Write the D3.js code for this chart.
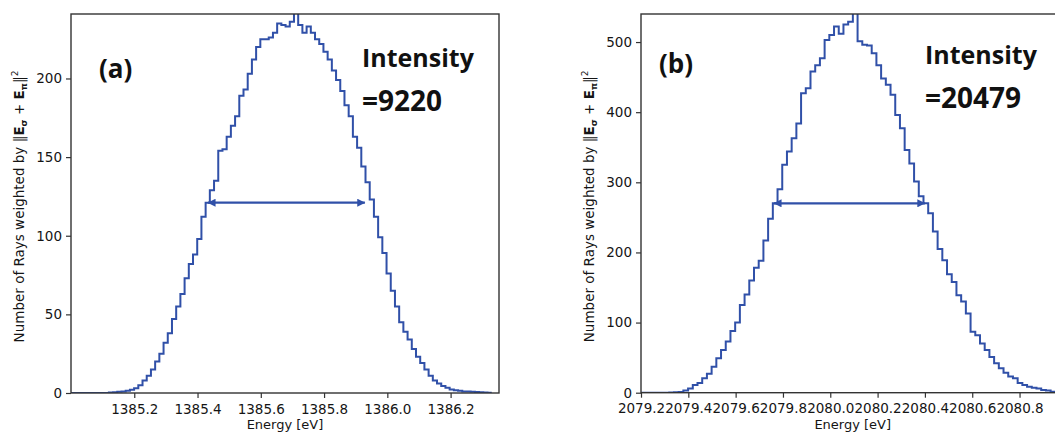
<!DOCTYPE html>
<html>
<head>
<meta charset="utf-8">
<script src="https://cdn.jsdelivr.net/npm/d3@7"></script>
<style>
  body { margin: 0; background: #fff; }
  svg { display: block; }
  .axis text { font-family: "DejaVu Sans", sans-serif; font-size: 13.5px; fill: #151515; }
  .axis path, .axis line { stroke: #333; stroke-width: 1.2; }
  .xlab { font-family: "DejaVu Sans", sans-serif; font-size: 13px; fill: #151515; }
  .ylab { font-family: "DejaVu Sans", sans-serif; font-size: 13.5px; fill: #151515; }
  .note { font-family: "Open Sans", sans-serif; font-weight: bold; fill: #111; }
</style>
</head>
<body>
<script>
// histogram (a): bins of 0.0133 eV starting at 1385.0 eV
const leftStart = 1385.0;
const leftBin = 0.0133;
const leftCounts = [0, 0, 0, 0, 0, 0, 0, 0, 0, 0.3,
  0.5, 0.8, 1, 1.5, 2, 3, 5, 8, 11, 15,
  20, 25, 32, 38, 47, 55, 63, 73, 82, 88,
  98, 112, 121, 129, 135, 154, 155, 163, 170, 176,
  189, 193, 203, 212, 220, 225, 225, 226, 229, 235,
  234, 233, 236, 245, 234, 229, 233, 229, 225, 222,
  217, 212, 205, 199, 192, 183, 176, 163, 156, 144,
  134, 123, 112, 99, 89, 76, 65, 55, 45, 39,
  34, 28, 23, 19, 15, 11, 8, 6, 4.4, 3.4,
  2.3, 1.7, 1.5, 1, 1, 0.8, 0.6, 0.4, 0.3, 0.2];
const leftTicksX = [1385.2, 1385.4, 1385.6, 1385.8, 1386.0, 1386.2];
const leftTicksY = [0, 50, 100, 150, 200];
const leftFwhm = [1385.433, 1385.929, 121];

// histogram (b): bins of 0.0199 eV starting at 2079.2 eV
const rightStart = 2079.2;
const rightBin = 0.0199;
const rightCounts = [0, 0, 0, 0, 0, 0, 0.3, 0.5, 1, 3,
  6, 11, 14, 20.5, 27, 37, 49, 61, 73, 88,
  100, 125, 140, 160, 178, 188, 217, 248, 270, 290,
  325, 344, 363, 384, 427, 434, 458, 467, 477, 503,
  510, 522, 512, 525, 529, 555, 501, 496, 495, 484,
  467, 448, 439, 425, 396, 377, 346, 327, 301, 280,
  270, 256, 230, 205, 189, 169, 158, 139, 130, 113,
  87, 82, 70, 61, 51, 42, 35, 28.5, 23, 20.5,
  14, 11, 8.5, 7, 6, 4, 3, 1.5, 1, 0.5];
const rightTicksX = [2079.2, 2079.4, 2079.6, 2079.8, 2080.0, 2080.2, 2080.4, 2080.6, 2080.8];
const rightTicksY = [0, 100, 200, 300, 400, 500];
const rightFwhm = [2079.762, 2080.40, 270];

const W = 1055, H = 435;
const blue = '#3050a8';

const svg = d3.select('body').append('svg')
  .attr('width', W).attr('height', H);

const defs = svg.append('defs');
defs.append('marker')
  .attr('id', 'arr')
  .attr('viewBox', '0 0 10 10')
  .attr('refX', 9.5).attr('refY', 5)
  .attr('markerWidth', 10).attr('markerHeight', 8)
  .attr('markerUnits', 'userSpaceOnUse')
  .attr('orient', 'auto-start-reverse')
  .append('path').attr('d', 'M0,0 L10,5 L0,10 z').attr('fill', blue);

function panel(cfg) {
  const x = d3.scaleLinear().domain(cfg.xdom).range([cfg.left, cfg.right]);
  const y = d3.scaleLinear().domain(cfg.ydom).range([cfg.bottom, cfg.top]);

  const clipId = 'clip-' + cfg.name;
  defs.append('clipPath').attr('id', clipId)
    .append('rect')
    .attr('x', cfg.left).attr('y', cfg.top)
    .attr('width', cfg.right - cfg.left).attr('height', cfg.bottom - cfg.top);

  // histogram outline (step)
  const pts = cfg.counts.map((c, i) => [cfg.start + i * cfg.bin, c]);
  pts.push([cfg.start + cfg.counts.length * cfg.bin, cfg.counts[cfg.counts.length - 1]]);
  const line = d3.line().x(d => x(d[0])).y(d => y(d[1])).curve(d3.curveStepAfter);
  svg.append('path')
    .datum(pts)
    .attr('clip-path', `url(#${clipId})`)
    .attr('d', line)
    .attr('fill', 'none')
    .attr('stroke', blue)
    .attr('stroke-width', 2)
    .attr('stroke-linejoin', 'miter');

  // FWHM arrow
  svg.append('line')
    .attr('x1', x(cfg.fwhm[0])).attr('x2', x(cfg.fwhm[1]))
    .attr('y1', y(cfg.fwhm[2])).attr('y2', y(cfg.fwhm[2]))
    .attr('stroke', blue).attr('stroke-width', 2.2)
    .attr('marker-start', 'url(#arr)')
    .attr('marker-end', 'url(#arr)');

  // axes
  svg.append('g').attr('class', 'axis')
    .attr('transform', `translate(0,${cfg.bottom})`)
    .call(d3.axisBottom(x).tickValues(cfg.ticksX).tickFormat(d3.format('.1f')).tickSizeOuter(0).tickSize(5).tickPadding(6))
    .select('.domain').remove();
  svg.append('g').attr('class', 'axis')
    .attr('transform', `translate(${cfg.left},0)`)
    .call(d3.axisLeft(y).tickValues(cfg.ticksY).tickFormat(d3.format('d')).tickSizeOuter(0).tickSize(5).tickPadding(4))
    .select('.domain').remove();

  svg.append('rect')
    .attr('x', cfg.left).attr('y', cfg.top)
    .attr('width', cfg.right - cfg.left).attr('height', cfg.bottom - cfg.top)
    .attr('fill', 'none').attr('stroke', '#333').attr('stroke-width', 1.4);

  // axis titles
  svg.append('text').attr('class', 'xlab')
    .attr('x', (cfg.left + cfg.right) / 2).attr('y', 429)
    .attr('text-anchor', 'middle')
    .text('Energy [eV]');

  const yl = svg.append('text').attr('class', 'ylab')
    .attr('transform', `translate(${cfg.ylabX},${(cfg.top + cfg.bottom) / 2 + 3}) rotate(-90)`)
    .attr('text-anchor', 'middle');
  yl.append('tspan').text('Number of Rays weighted by \u2016');
  yl.append('tspan').attr('font-weight', 'bold').text('E');
  yl.append('tspan').attr('font-weight', 'bold').attr('font-size', 9).attr('dy', 3).text('\u03c3');
  yl.append('tspan').attr('dy', -3).text(' + ');
  yl.append('tspan').attr('font-weight', 'bold').text('E');
  yl.append('tspan').attr('font-weight', 'bold').attr('font-size', 9).attr('dy', 3).text('\u03c0');
  yl.append('tspan').attr('dy', -3).text('\u2016');
  yl.append('tspan').attr('font-size', 9).attr('dy', -6).text('2');

  // annotations
  svg.append('text').attr('class', 'note')
    .attr('x', cfg.tagX).attr('y', cfg.tagY).attr('font-size', 26)
    .text(cfg.tag);
  svg.append('text').attr('class', 'note')
    .attr('x', cfg.noteX).attr('y', cfg.noteY).attr('font-size', 25)
    .text('Intensity');
  svg.append('text').attr('class', 'note')
    .attr('x', cfg.noteX).attr('y', cfg.noteY + 44).attr('font-size', 28)
    .text(cfg.value);
}

panel({
  name: 'a', left: 71, right: 499, top: 14, bottom: 393,
  xdom: [1385.0, 1386.353], ydom: [0, 241],
  start: leftStart, bin: leftBin, counts: leftCounts,
  ticksX: leftTicksX, ticksY: leftTicksY, fwhm: leftFwhm,
  ylabX: 24, tag: '(a)', tagX: 99, tagY: 78,
  noteX: 362, noteY: 67, value: '=9220'
});

panel({
  name: 'b', left: 641, right: 1064.5, top: 14, bottom: 392.7,
  xdom: [2079.2, 2080.99], ydom: [0, 540],
  start: rightStart, bin: rightBin, counts: rightCounts,
  ticksX: rightTicksX, ticksY: rightTicksY, fwhm: rightFwhm,
  ylabX: 594, tag: '(b)', tagX: 659, tagY: 73,
  noteX: 925, noteY: 64, value: '=20479'
});
</script>
</body>
</html>
